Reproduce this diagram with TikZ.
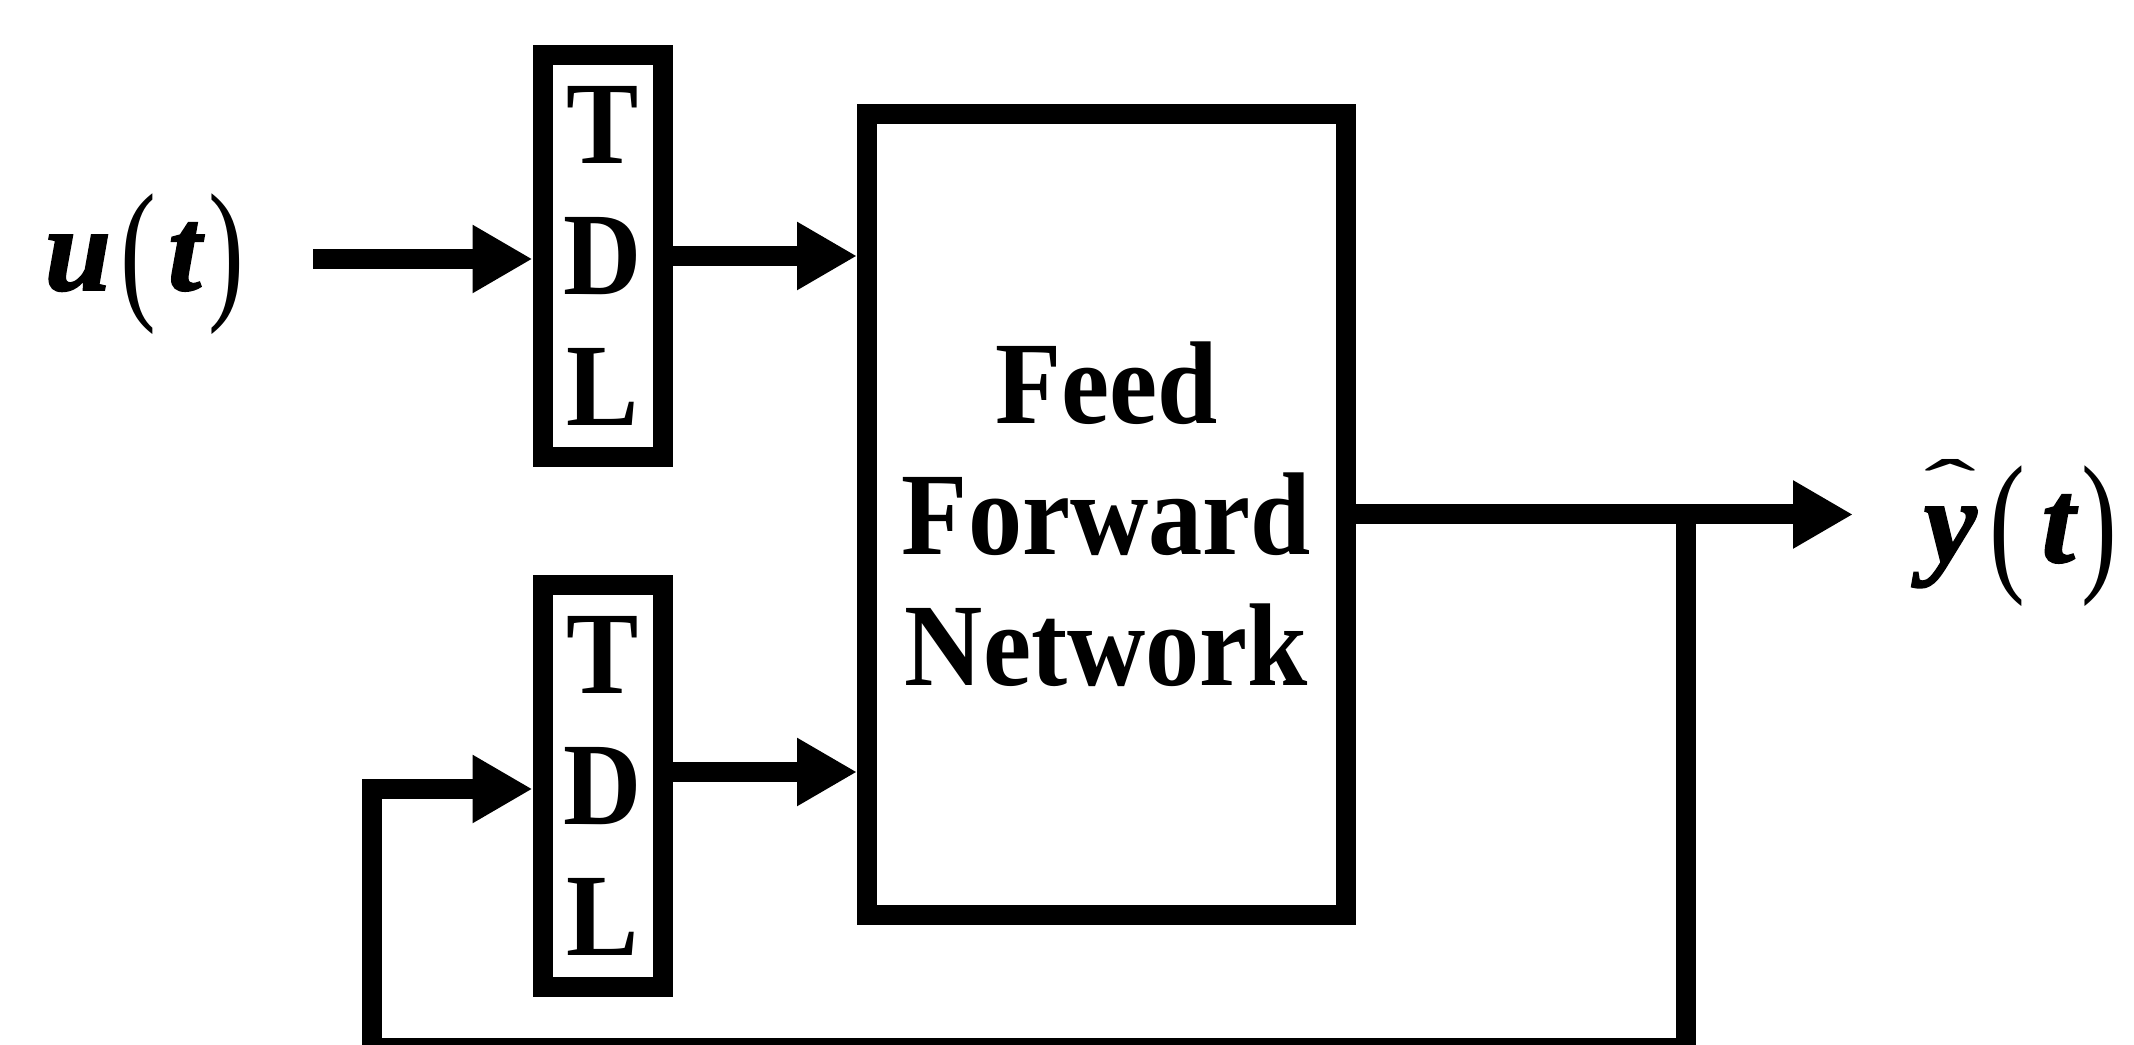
\documentclass[tikz,border=0pt]{standalone}
\usepackage{graphicx}
\usepackage{fontspec}
\setmainfont{Liberation Serif}
\newfontfamily\labelfont{Liberation Serif}[FakeBold=1.5]
\usetikzlibrary{arrows.meta,calc}

% slightly condensed bold lettering for the block captions
\newcommand\narrow[1]{\scalebox{0.92}[1]{#1}}
% tall, narrow upright parentheses for the signal labels
\newcommand\tallparen[1]{\raisebox{-1.2mm}{\scalebox{0.9}[1.3]{\normalfont#1}}}
% a flat circumflex set well above its argument
\newsavebox\hatbox
\newcommand\hatted[1]{\sbox\hatbox{#1}\rlap{\makebox[\wd\hatbox]{\raisebox{4.8mm}{\scalebox{1.3}[0.65]{\normalfont\char"02C6}}}}\usebox\hatbox}

\begin{document}
\begin{tikzpicture}[x=0.1mm,y=-0.1mm,
  wire/.style={line width=2mm},
  arr/.style={wire,-{Triangle[length=6mm,width=6.4mm]}},
  labeltext/.style={font={\labelfont\fontsize{34}{37.3}\selectfont\bfseries\itshape}},
  blocktext/.style={font={\fontsize{33.5}{37.3}\selectfont\bfseries}},
  tdlbox/.style={draw,line width=2mm,minimum width=12mm,minimum height=40.2mm,
    inner sep=0pt,outer sep=1mm,align=center,blocktext},
  netbox/.style={draw,line width=2mm,minimum width=47.9mm,minimum height=80.1mm,
    inner sep=0pt,outer sep=1mm,align=center,blocktext},
  signal/.style={inner sep=0pt,labeltext}]

\clip (0,0) rectangle (2134,1045);
\useasboundingbox (0,0) rectangle (2134,1045);

% blocks
\node[tdlbox] (tdl1) at (602.5,256) {\narrow{T}\\\narrow{D}\\\narrow{L}};
\node[tdlbox] (tdl2) at (602.5,786) {\narrow{T}\\\narrow{D}\\\narrow{L}};
\node[netbox] (ffn) at (1106.5,514.5)
  {\narrow{Feed}\\\narrow{Forward}\\\narrow{Network}};

% signal labels
\node[signal,anchor=base west] (u) at (44,290)
  {u\kern0.9mm\tallparen{(}\kern1.2mm t\kern0.7mm\tallparen{)}};
\node[signal,anchor=base west] (yh) at (1923,562)
  {\hatted{y}\kern1.3mm\tallparen{(}\kern1.6mm t\kern0.7mm\tallparen{)}};

% auxiliary points of the connectors
\coordinate (uin) at (313,259);
\coordinate (yo) at (1853,519);
\coordinate (j) at (1686,519);
\coordinate (fbl) at (372,1048);
\coordinate (t2o) at ($(tdl2.east)+(0,-14)$);
\coordinate (t2i) at ($(tdl2.west)+(0,3)$);

% forward path
\draw[arr] (uin) -- (uin -| tdl1.west);
\draw[arr] (tdl1.east) -- (tdl1.east -| ffn.west);
\draw[arr] (t2o) -- (t2o -| ffn.west);
\draw[arr] (ffn.east) -- (ffn.east -| yo);

% feedback loop
\draw[arr] (ffn.east -| j) |- (fbl) |- (t2i);
\end{tikzpicture}
\end{document}
